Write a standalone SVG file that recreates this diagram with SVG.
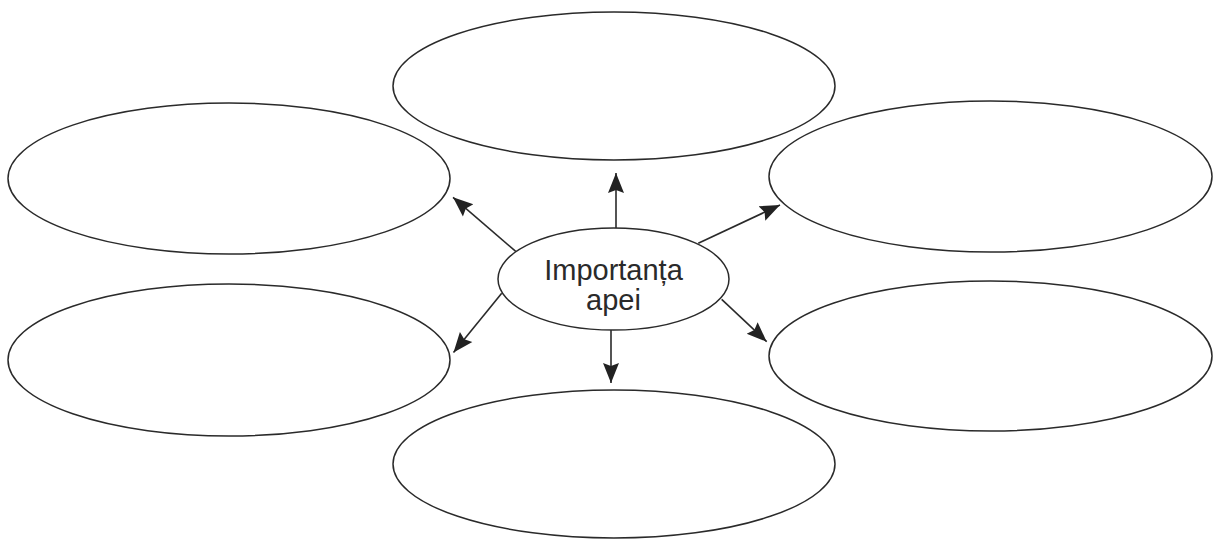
<svg xmlns="http://www.w3.org/2000/svg" width="1220" height="541" viewBox="0 0 1220 541">
<style>
.node{fill:#fff;stroke:#2a2a2a;stroke-width:1.5}
.conn{stroke:#2a2a2a;stroke-width:1.6;fill:none;marker-end:url(#ah)}
.lbl{font-family:"Liberation Sans",Arial,sans-serif;font-size:29px;fill:#2a2a2a;text-anchor:middle}
</style>
<defs>
<marker id="ah" markerUnits="userSpaceOnUse" markerWidth="22" markerHeight="18" refX="20" refY="8" orient="auto" viewBox="0 0 22 16">
<path d="M0,0 L20,8 L0,16 L3,8 z" fill="#222"/>
</marker>
</defs>
<rect width="1220" height="541" fill="#fff"/>
<g id="node-top"><ellipse class="node" cx="614" cy="86" rx="221" ry="74"/></g>
<g id="node-upper-left"><ellipse class="node" cx="229" cy="178.5" rx="221" ry="75.5"/></g>
<g id="node-lower-left"><ellipse class="node" cx="229" cy="360" rx="221" ry="76"/></g>
<g id="node-upper-right"><ellipse class="node" cx="990.5" cy="176.5" rx="221.5" ry="75.5"/></g>
<g id="node-lower-right"><ellipse class="node" cx="990.5" cy="356" rx="221.5" ry="75"/></g>
<g id="node-bottom"><ellipse class="node" cx="614" cy="464" rx="221" ry="74"/></g>
<g id="connectors">
<line class="conn" x1="616" y1="228" x2="616" y2="173"/>
<line class="conn" x1="611" y1="330" x2="611" y2="383"/>
<line class="conn" x1="516" y1="251.7" x2="453" y2="197.3"/>
<line class="conn" x1="501.7" y1="293.3" x2="453.5" y2="352.5"/>
<line class="conn" x1="698.3" y1="243.3" x2="780" y2="205"/>
<line class="conn" x1="721.7" y1="299.3" x2="766.7" y2="341.7"/>
</g>
<g id="node-center">
<ellipse class="node" cx="613.5" cy="279" rx="115.5" ry="51"/>
<text class="lbl" x="613.5" y="280">Importanța</text>
<text class="lbl" x="613.5" y="310">apei</text>
</g>
</svg>
